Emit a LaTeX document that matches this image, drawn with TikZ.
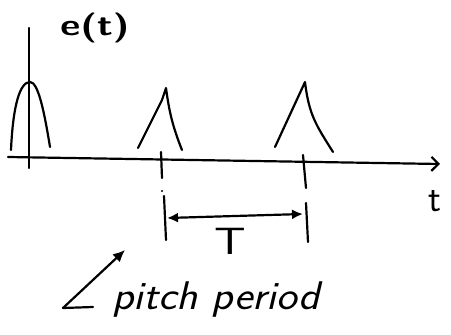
\documentclass[tikz,border=0pt]{standalone}
\usetikzlibrary{arrows.meta}
\begin{document}
\begin{tikzpicture}[x=1pt,y=-1pt,
  pen/.style={line width=2.2pt,line cap=round,line join=round},
  lbl/.style={inner sep=0pt,font=\sffamily}]
\useasboundingbox (0,0) rectangle (451,335);
% axes
\coordinate (xs) at (8,157);
\coordinate (xe) at (440,164);
\draw[pen,-{Straight Barb[length=7pt,width=14pt,line width=2.2pt]}] (xs) -- (xe);
\draw[pen] (29,28) -- (29,168);
% pulses
\draw[pen] (11,150) .. controls (13,105) and (20,82) .. (30,82)
  .. controls (38,82) and (44,110) .. (50,147);
\draw[pen] (138,148) -- (162,100) -- (166,88) .. controls (169,110) and (172,125) .. (182,150);
\draw[pen] (275,147) -- (305,82) .. controls (309,115) and (316,125) .. (333,152);
% ticks
\draw[pen] (161,152) -- (162,178);
\fill (162,191) circle (1.2pt);
\draw[pen] (164,196) -- (166,240);
\draw[pen] (303,155) -- (306,188);
\draw[pen] (306,203) -- (308,242);
% period arrow
\coordinate (pa) at (167,218);
\coordinate (pb) at (303,214);
\draw[pen,{Latex[length=11pt,width=10pt]}-{Latex[length=11pt,width=10pt]}] (pa) -- (pb);
% labels
\node[lbl,font=\sffamily\bfseries\fontsize{30}{30}\selectfont] (et) at (95,28) {\scalebox{1.3}[1]{e(t)}};
\node[lbl,font=\sffamily\fontsize{38}{38}\selectfont] (tt) at (435,201) {t};
\node[lbl,font=\sffamily\fontsize{38}{38}\selectfont] (TT) at (230,241) {\scalebox{1.3}[1]{T}};
\node[lbl,font=\sffamily\itshape\fontsize{40}{40}\selectfont,anchor=west] (pp) at (112,300) {\scalebox{1.1}[1]{pitch period}};
% pointer
\coordinate (c0) at (93,307);
\coordinate (c1) at (63,308);
\coordinate (c2) at (125,250);
\draw[pen,-{Latex[length=12pt,width=11pt]}] (c0) -- (c1) -- (c2);
\end{tikzpicture}
\end{document}
